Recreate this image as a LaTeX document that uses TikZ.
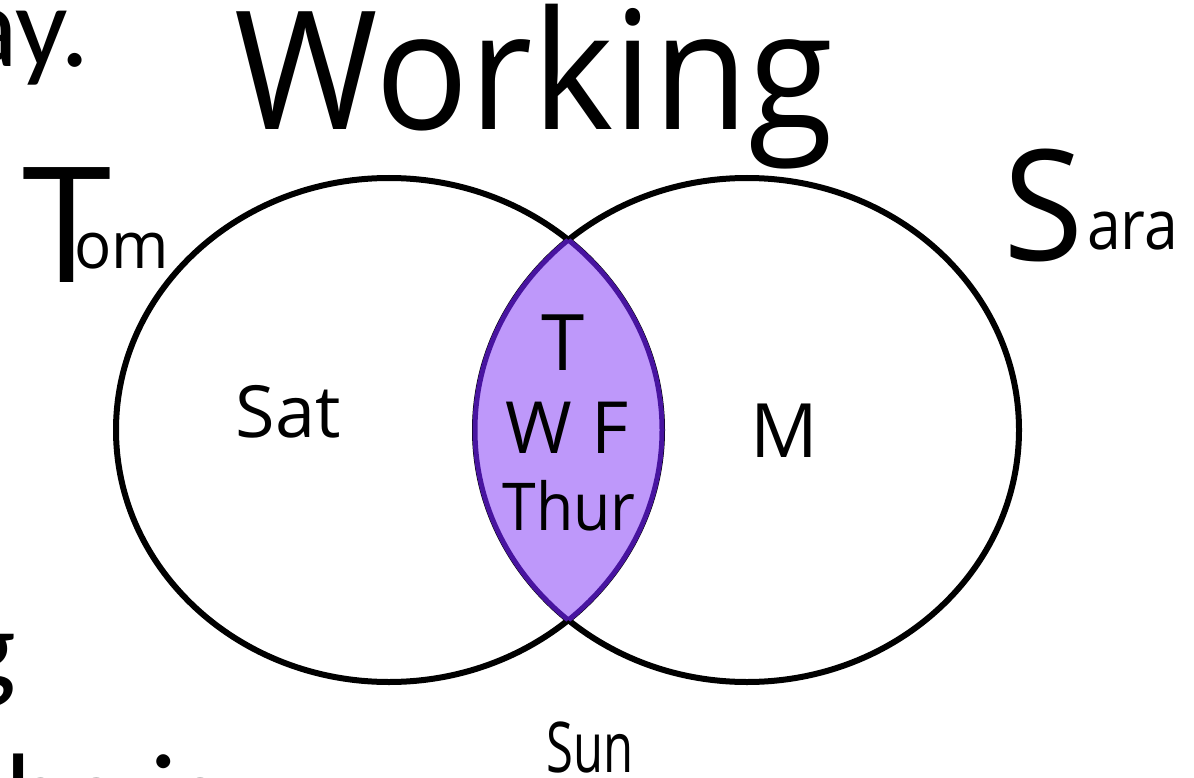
\documentclass[tikz,border=0pt]{standalone}
\usepackage{fontspec}
\setmainfont{Open Sans}
\newfontfamily\slidefont{Carlito}
\definecolor{lensfill}{RGB}{190,152,250}
\definecolor{lensline}{RGB}{72,20,160}
\tikzset{
  lbl/.style={inner sep=0pt, anchor=base},
  ring/.style={line width=6pt, draw=black},
  lensring/.style={line width=5pt, draw=lensline},
}
\newcommand{\fs}[1]{\fontsize{#1}{#1}\selectfont}
\newcommand{\sx}[2]{\scalebox{#1}[1]{#2}}
\begin{document}
\begin{tikzpicture}[x=1pt,y=-1pt]
\useasboundingbox (0,0) rectangle (1194,778);
\fill[white] (0,0) rectangle (1194,778);
% circles
\coordinate (cl) at (389,430);
\coordinate (cr) at (747,430);
\draw[ring] (cl) ellipse [x radius=273pt, y radius=252pt];
\draw[ring] (cr) ellipse [x radius=272pt, y radius=252pt];
% lens
\begin{scope}
  \clip (cl) ellipse [x radius=273pt, y radius=252pt];
  \fill[lensfill] (cr) ellipse [x radius=272pt, y radius=252pt];
  \draw[lensring] (cr) ellipse [x radius=272pt, y radius=252pt];
\end{scope}
\begin{scope}
  \clip (cr) ellipse [x radius=272pt, y radius=252pt];
  \draw[lensring] (cl) ellipse [x radius=273pt, y radius=252pt];
\end{scope}
% slide text fragments
\node[lbl, anchor=base east, font=\slidefont\fs{116}] (ay) at (90,67) {ay.};
\node[lbl, anchor=base east, font=\slidefont\fs{116}] (g) at (16,687) {g};
\node[lbl, anchor=base west, font=\slidefont\fs{116}] (heis) at (5,834) {he is};
% titles
\node[lbl, font=\fs{165}] (working) at (534,130) {\sx{0.94}{Working}};
\node[lbl, anchor=base west, font=\fs{161}] (tomT) at (22,282) {T};
\node[lbl, anchor=base west, font=\fs{65}] (tomom) at (74,268) {\sx{0.95}{om}};
\node[lbl, anchor=base west, font=\fs{154}] (saraS) at (1003,260) {\sx{0.95}{S}};
\node[lbl, anchor=base west, font=\fs{69}] (saraara) at (1087,250) {\sx{0.88}{ara}};
% region labels
\node[lbl, font=\fs{72}] (sat) at (288,437) {Sat};
\node[lbl, font=\fs{78}] (lt) at (563,370) {T};
\node[lbl, font=\fs{72}] (wf) at (567,453) {W F};
\node[lbl, font=\fs{66}] (thur) at (569,530) {\sx{0.92}{Thur}};
\node[lbl, font=\fs{75}] (m) at (784,457) {M};
\node[lbl, font=\fs{70}] (sun) at (590,772) {\sx{0.7}{Sun}};
\end{tikzpicture}
\end{document}
